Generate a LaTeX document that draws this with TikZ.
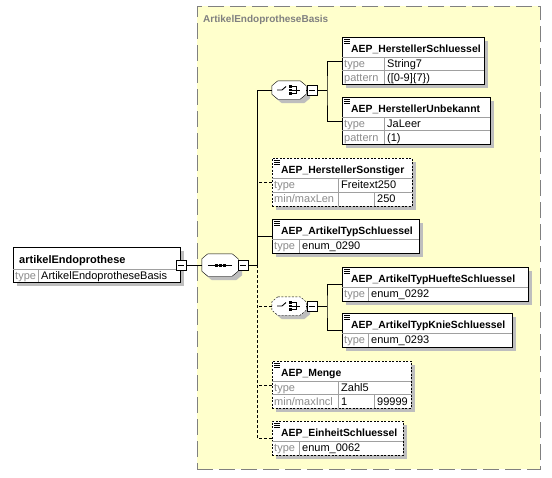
\documentclass[tikz,border=0pt]{standalone}
\usepackage{fontspec}
\setmainfont{Liberation Sans}
\usetikzlibrary{calc}
\usetikzlibrary{positioning}
\definecolor{areayellow}{HTML}{FFFFCC}
\definecolor{areagray}{HTML}{808080}
\definecolor{keygray}{HTML}{8C8C8C}
\definecolor{cellgray}{HTML}{A0A0A0}
\definecolor{shadowgray}{HTML}{BEBEBE}
\pgfdeclarelayer{bg}
\pgfdeclarelayer{shade}
\pgfsetlayers{bg,shade,main}
\tikzset{
  basis/.style={draw=areagray, fill=areayellow, dash pattern=on 16pt off 6pt, anchor=north west, inner sep=0},
  basistitle/.style={anchor=base west, inner sep=0, text=areagray, font=\fontsize{10}{12}\selectfont\bfseries},
  elem/.style={draw, fill=white, anchor=north west, inner sep=0},
  optelem/.style={elem, dash pattern=on 2pt off 1.5pt},
  etitle/.style={anchor=base west, inner sep=0, font=\fontsize{10.4}{12}\selectfont\bfseries},
  fkey/.style={anchor=base west, inner sep=0, text=keygray, font=\fontsize{11}{12}\selectfont},
  fval/.style={anchor=base west, inner sep=0, font=\fontsize{11}{12}\selectfont},
  cellline/.style={draw=cellgray, line width=0.8pt},
  compositor/.style={rectangle, inner sep=0},
  seqbox/.style={compositor, minimum width=36pt, minimum height=22pt},
  chbox/.style={compositor, minimum width=34pt, minimum height=18pt},
  octa/.style={draw, fill=white},
  toggle/.style={draw, fill=white, minimum size=10pt, inner sep=0, path picture={\draw ([xshift=2pt]path picture bounding box.west) -- ([xshift=-2pt]path picture bounding box.east);}},
  optline/.style={dash pattern=on 3pt off 2pt},
}
% gray shadow under a box
\newcommand{\shadebox}[1]{%
  \begin{pgfonlayer}{shade}
    \fill[shadowgray] ([shift={(4pt,-4pt)}]#1.north west) rectangle ([shift={(4pt,-4pt)}]#1.south east);
  \end{pgfonlayer}}
% one facet row: box, row top, key column width, key, value
\newcommand{\facetrow}[5]{%
  \draw[cellline] ([yshift=-#2pt]#1.north west) -- ([yshift=-#2pt]#1.north east);
  \draw[cellline] ([shift={(#3pt,-#2pt)}]#1.north west) -- ([shift={(#3pt,0pt)}]#1.south west);
  \node[fkey] at ([shift={(2pt,-#2pt-10.5pt)}]#1.north west) {#4};
  \node[fval] at ([shift={(#3pt+3pt,-#2pt-10.5pt)}]#1.north west) {#5};
}
% extra cell in a facet row: box, row top, column offset, value
\newcommand{\facetcell}[4]{%
  \draw[cellline] ([shift={(#3pt,-#2pt)}]#1.north west) -- ([shift={(#3pt,0pt)}]#1.south west);
  \node[fval] at ([shift={(#3pt+3pt,-#2pt-10.5pt)}]#1.north west) {#4};
}
\newcommand{\docicon}[1]{%
  \foreach \dy in {2,4,6}
    \draw[line width=0.7pt] ([shift={(2pt,-\dy*1pt)}]#1.north west) -- ++(6,0);
}
% octagon outline round a compositor node
\newcommand{\octapath}[2]{%
  \path[#2] ([xshift=6pt]#1.north west) -- ([xshift=-6pt]#1.north east)
    -- ([yshift=-5pt]#1.north east) -- ([yshift=5pt]#1.south east)
    -- ([xshift=-6pt]#1.south east) -- ([xshift=6pt]#1.south west)
    -- ([yshift=5pt]#1.south west) -- ([yshift=-5pt]#1.north west) -- cycle;
}
\newcommand{\octagon}[2]{%
  \begin{pgfonlayer}{shade}
    \begin{scope}[transform canvas={shift={(4pt,-4pt)}}]
      \octapath{#1}{fill=shadowgray}
    \end{scope}
  \end{pgfonlayer}
  \octapath{#1}{octa, #2}
}
\newcommand{\seqicon}[1]{%
  \begin{scope}[shift={(#1.center)}]
    \draw[line width=0.8pt] (-12,0) -- (12,0);
    \foreach \sx in {-4,0,4} \fill (\sx-1.5,-1.5) rectangle ++(3,3);
  \end{scope}}
\newcommand{\choiceicon}[1]{%
  \begin{scope}[shift={(#1.center)}, line width=0.9pt]
    \draw (-12,0) -- (-7,0) -- (-3,-3.5);
    \foreach \sy in {-3.5,0,3.5} \fill (0,\sy-1.3) rectangle ++(2.8,2.6);
    \draw (3,-3.5) -| (7,3.5) -- (3,3.5);
    \draw (3,0) -- (11,0);
  \end{scope}}
\begin{document}
\begin{tikzpicture}[x=1pt, y=-1pt, line width=1pt]
  \useasboundingbox (0,0) rectangle (552,477);

  % Base type area
  \begin{pgfonlayer}{bg}
    \node[basis, minimum width=343pt, minimum height=463pt] (basis) at (197,6) {};
  \end{pgfonlayer}
  \node[basistitle] at ([shift={(6pt,-16pt)}]basis.north west) {ArtikelEndoprotheseBasis};

  % Root element
  \node[elem, minimum width=167pt, minimum height=35pt] (artikel) at (13,247) {};
  \shadebox{artikel}
  \node[etitle, font=\fontsize{11}{12}\selectfont\bfseries] at ([shift={(6pt,-16pt)}]artikel.north west) {artikelEndoprothese};
  \facetrow{artikel}{22}{25}{type}{ArtikelEndoprotheseBasis}

  % Elements
  \node[elem, minimum width=142pt, minimum height=47pt] (hschl) at (342,37) {};
  \shadebox{hschl}
  \docicon{hschl}
  \node[etitle] at ([shift={(9pt,-15pt)}]hschl.north west) {AEP\_HerstellerSchluessel};
  \facetrow{hschl}{20}{42}{type}{String7}
  \facetrow{hschl}{33.5}{42}{pattern}{([0-9]\{7\})}

  \node[elem, minimum width=148pt, minimum height=47pt] (hunbek) at (342,97) {};
  \shadebox{hunbek}
  \docicon{hunbek}
  \node[etitle] at ([shift={(9pt,-15pt)}]hunbek.north west) {AEP\_HerstellerUnbekannt};
  \facetrow{hunbek}{20}{42}{type}{JaLeer}
  \facetrow{hunbek}{33.5}{42}{pattern}{(1)}

  \node[optelem, minimum width=140pt, minimum height=48pt] (hsonst) at (272,158) {};
  \shadebox{hsonst}
  \docicon{hsonst}
  \node[etitle] at ([shift={(9pt,-15pt)}]hsonst.north west) {AEP\_HerstellerSonstiger};
  \facetrow{hsonst}{20}{66}{type}{Freitext250}
  \facetrow{hsonst}{34}{66}{min/maxLen}{}
  \facetcell{hsonst}{34}{102}{250}

  \node[elem, minimum width=147pt, minimum height=34pt] (atyp) at (272,219) {};
  \shadebox{atyp}
  \docicon{atyp}
  \node[etitle] at ([shift={(9pt,-15pt)}]atyp.north west) {AEP\_ArtikelTypSchluessel};
  \facetrow{atyp}{20}{27}{type}{enum\_0290}

  \node[elem, minimum width=186pt, minimum height=34pt] (huefte) at (342,267) {};
  \shadebox{huefte}
  \docicon{huefte}
  \node[etitle] at ([shift={(9pt,-15pt)}]huefte.north west) {AEP\_ArtikelTypHuefteSchluessel};
  \facetrow{huefte}{20}{26}{type}{enum\_0292}

  \node[elem, minimum width=170pt, minimum height=34pt] (knie) at (342,313) {};
  \shadebox{knie}
  \docicon{knie}
  \node[etitle] at ([shift={(9pt,-15pt)}]knie.north west) {AEP\_ArtikelTypKnieSchluessel};
  \facetrow{knie}{20}{26}{type}{enum\_0293}

  \node[optelem, minimum width=139pt, minimum height=47pt] (menge) at (272,361) {};
  \shadebox{menge}
  \docicon{menge}
  \node[etitle] at ([shift={(9pt,-15pt)}]menge.north west) {AEP\_Menge};
  \facetrow{menge}{20}{66}{type}{Zahl5}
  \facetrow{menge}{33.5}{66}{min/maxIncl}{1}
  \facetcell{menge}{33.5}{102}{99999}

  \node[optelem, minimum width=131pt, minimum height=34pt] (einheit) at (272,421) {};
  \shadebox{einheit}
  \docicon{einheit}
  \node[etitle] at ([shift={(9pt,-15pt)}]einheit.north west) {AEP\_EinheitSchluessel};
  \facetrow{einheit}{20}{27}{type}{enum\_0062}

  % Compositors
  \node[seqbox] (seq) at (220,265) {};
  \octagon{seq}{}
  \seqicon{seq}
  \node[chbox] (chsel) at (289,90) {};
  \octagon{chsel}{}
  \choiceicon{chsel}
  \node[chbox] (chtyp) at (289,306) {};
  \octagon{chtyp}{dash pattern=on 2pt off 1.5pt}
  \choiceicon{chtyp}
  \coordinate (spine) at (257,265);
  \coordinate (selspine) at (327,90);
  \coordinate (typspine) at (327,306);

  % Connectors
  \draw (artikel.east |- seq) -- (seq);
  \draw (seq) -- (spine);
  \draw (spine) |- (chsel);
  \draw (atyp.west) -- (spine |- atyp.west);
  \draw[optline] (hsonst.west) -- (spine |- hsonst.west);
  \draw[optline] (chtyp.west) -- (spine |- chtyp.west);
  \draw[optline] (menge.west) -- (spine |- menge.west);
  \draw[optline] (spine) |- (einheit.west);
  \draw (chsel) -- (selspine);
  \draw (hschl.west) -| (selspine) |- (hunbek.west);
  \draw (chtyp) -- (typspine);
  \draw (huefte.west) -| (typspine) |- (knie.west);

  % Toggles
  \node[toggle] (artikelm) at (181,265) {};
  \node[toggle] (seqm) at (243,265) {};
  \node[toggle] (chselm) at (312,90) {};
  \node[toggle] (chtypm) at (312,306) {};
\end{tikzpicture}
\end{document}
